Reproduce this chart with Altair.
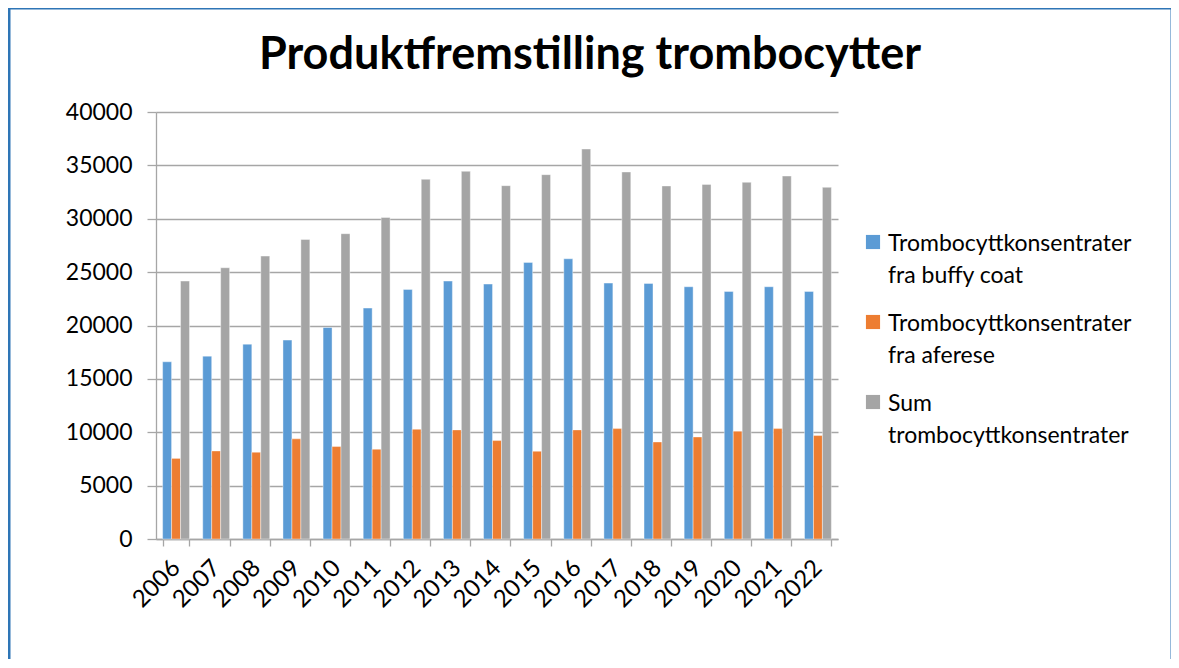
import altair as alt
import pandas as pd

years = [str(y) for y in range(2006, 2023)]
buffy = [16600, 17130, 18250, 18630, 19810, 21630, 23380, 24160, 23880, 25910,
         26250, 23970, 23940, 23630, 23190, 23630, 23190]
aferese = [7550, 8250, 8130, 9380, 8660, 8410, 10280, 10220, 9220, 8220,
           10220, 10340, 9090, 9560, 10100, 10340, 9690]
total = [24160, 25410, 26500, 28060, 28600, 30120, 33690, 34440, 33100, 34130,
         36530, 34380, 33070, 33220, 33410, 34000, 32940]
series = ["Trombocyttkonsentrater fra buffy coat",
          "Trombocyttkonsentrater fra aferese",
          "Sum trombocyttkonsentrater"]
legend_lines = [["Trombocyttkonsentrater", "fra buffy coat"],
                ["Trombocyttkonsentrater", "fra aferese"],
                ["Sum", "trombocyttkonsentrater"]]
colors = ["#5B9BD5", "#ED7D31", "#A5A5A5"]

rows = []
for i, y in enumerate(years):
    for s, vals in zip(series, [buffy, aferese, total]):
        rows.append({"year": y, "series": s, "value": vals[i]})
df = pd.DataFrame(rows)
leg_df = pd.DataFrame({"series": series, "text": ["\n".join(l) for l in legend_lines]})

FONT = "Lato"
W, H = 682, 427
color_scale = alt.Scale(domain=series, range=colors)

bars = alt.Chart(df).mark_bar(stroke="white", strokeWidth=0.4).encode(
    x=alt.X("year:N", sort=years, title=None,
            scale=alt.Scale(paddingInner=0.33, paddingOuter=0.165),
            axis=alt.Axis(labelAngle=-45, labelAlign="right", labelBaseline="middle",
                          labelFontSize=24, labelFont=FONT, labelColor="#000000",
                          labelPadding=18, tickBand="extent", tickSize=7,
                          tickColor="#A6A6A6", domainColor="#A6A6A6",
                          domainWidth=1.3, tickWidth=1.3, grid=False)),
    xOffset=alt.XOffset("series:N", sort=series,
                        scale=alt.Scale(paddingInner=0, paddingOuter=0)),
    y=alt.Y("value:Q", title=None,
            scale=alt.Scale(domain=[0, 40000], nice=False),
            axis=alt.Axis(values=list(range(0, 40001, 5000)), format="d",
                          labelFontSize=23, labelFont=FONT, labelColor="#000000",
                          labelPadding=15, tickSize=9, tickColor="#A6A6A6",
                          domainColor="#A6A6A6", domainWidth=1.3, tickWidth=1.3,
                          gridColor="#A6A6A6", gridWidth=1.3, grid=True)),
    color=alt.Color("series:N", sort=series, scale=color_scale, legend=None),
)

leg_y = alt.Y("series:N", sort=series, axis=None,
              scale=alt.Scale(type="point", domain=series, range=[130, 290], padding=0))
leg_sym = alt.Chart(leg_df).mark_square(size=200, opacity=1).encode(
    x=alt.value(717), y=leg_y,
    color=alt.Color("series:N", scale=color_scale, legend=None),
)
leg_txt = alt.Chart(leg_df).mark_text(
    align="left", baseline="alphabetic", dy=9, fontSize=23, font=FONT,
    color="#000000", lineBreak="\n", lineHeight=32,
).encode(x=alt.value(732), y=leg_y, text="text:N")

frame_df = pd.DataFrame({"k": [0]})
frame = alt.Chart(frame_df).mark_rect(fill=None, stroke="#2E75B6", strokeWidth=3).encode(
    x=alt.value(-147), x2=alt.value(1016), y=alt.value(-104), y2=alt.value(600)
)

chart = alt.layer(frame, bars, leg_sym, leg_txt).resolve_scale(y="independent").properties(
    width=W, height=H,
    title=alt.TitleParams("Produktfremstilling trombocytter", font=FONT, fontSize=45,
                          fontWeight="bold", color="#000000", anchor="middle",
                          baseline="alphabetic", dx=93, offset=-107),
    autosize=alt.AutoSizeParams(type="none"),
    padding={"left": 148, "top": 104, "right": 333, "bottom": 120},
).configure_view(stroke=None)

chart.save("out.html", embed_options={"renderer": "svg", "actions": False})
